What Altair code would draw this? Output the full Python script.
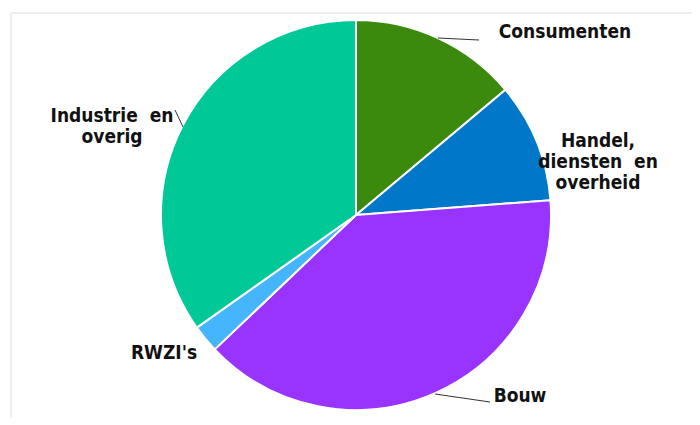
import altair as alt
import pandas as pd

categories = ["Consumenten", "Handel, diensten en overheid", "Bouw", "RWZI's", "Industrie en overig"]
shares = [13.9, 9.9, 39.1, 2.3, 34.8]
colors = ["#3b8a0e", "#0077c8", "#9933ff", "#45b6fe", "#00c896"]
label_texts = ["Consumenten", "Handel,\ndiensten\u00a0 en\noverheid", "Bouw", "RWZI's", "Industrie\u00a0 en\noverig"]

df = pd.DataFrame({"cat": categories, "value": shares, "idx": list(range(len(categories)))})
one = pd.DataFrame({"k": [0]})

# layout (svg pixel positions of annotations)
label_pos = {
    "Consumenten": (557, 24),
    "Handel, diensten en overheid": (590, 133),
    "Bouw": (512, 388),
    "RWZI's": (156, 345),
    "Industrie en overig": (104, 108),
}
leaders = [
    ((430, 30), (471, 32)),
    ((167, 102), (175, 119)),
    ((427, 386), (482, 394)),
]

CX, CY, R = 348, 207, 195

pie = alt.Chart(df).mark_arc(outerRadius=R, stroke="white", strokeWidth=2).encode(
    theta=alt.Theta("value:Q", stack=True),
    color=alt.Color("cat:N", scale=alt.Scale(domain=categories, range=colors), legend=None),
    order=alt.Order("idx:Q"),
    x=alt.value(CX),
    y=alt.value(CY),
)

layers = []
# border lines
layers.append(alt.Chart(one).mark_rule(color="#e3e7f0", strokeWidth=1.5).encode(
    x=alt.value(3), x2=alt.value(684), y=alt.value(5), y2=alt.value(5)))
layers.append(alt.Chart(one).mark_rule(color="#e3e7f0", strokeWidth=1.5).encode(
    x=alt.value(3), x2=alt.value(3), y=alt.value(5), y2=alt.value(409)))
layers.append(pie)
for (a, b) in leaders:
    layers.append(alt.Chart(one).mark_rule(color="#333333", strokeWidth=1).encode(
        x=alt.value(a[0]), y=alt.value(a[1]), x2=alt.value(b[0]), y2=alt.value(b[1])))
for cat, txt in zip(categories, label_texts):
    px, py = label_pos[cat]
    layers.append(alt.Chart(one).mark_text(
        text=txt, lineBreak="\n", lineHeight=21, font="DejaVu Sans Condensed", fontSize=19,
        fontWeight="bold", color="#111111", align="center", baseline="middle",
    ).encode(x=alt.value(px), y=alt.value(py)))

chart = alt.layer(*layers).properties(
    width=684, height=409, autosize="none", padding=0
).configure_view(stroke=None)

chart.save("out.html", embed_options={"renderer": "svg", "actions": False})
